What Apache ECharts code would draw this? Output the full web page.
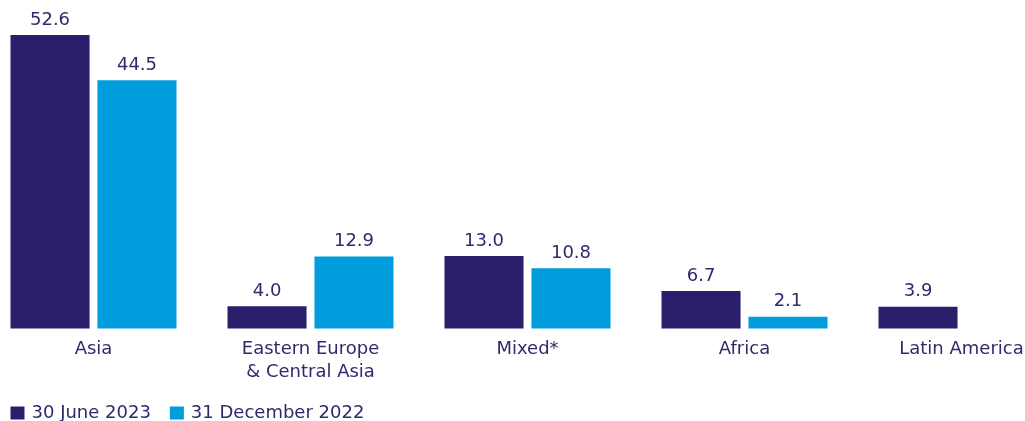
<!DOCTYPE html>
<html><head><meta charset="utf-8">
<script src="https://cdn.jsdelivr.net/npm/echarts@6/dist/echarts.min.js"></script>
<style>html,body{margin:0;padding:0;background:#fff;overflow:hidden;width:1025px;height:421px}#c{position:absolute;left:-15.5px;top:0;width:1085px;height:421px}</style>
</head><body><div id="c"></div>
<script>
const categories = ['Asia', 'Eastern Europe\n& Central Asia', 'Mixed*', 'Africa', 'Latin America'];
const seriesNames = ['30 June 2023', '31 December 2022'];
const june2023 = [52.6, 4.0, 13.0, 6.7, 3.9];
const dec2022 = [44.5, 12.9, 10.8, 2.1, null];

const textColor = '#2f2a6b';
const font = 'DejaVu Sans';
const chart = echarts.init(document.getElementById('c'));
const maxVal = Math.max(...june2023, ...dec2022.filter(v => v != null));
function lbl() {
  return { show: true, position: 'top', distance: 6, color: textColor, fontSize: 18, fontFamily: font,
    formatter: p => p.value == null ? '' : Number(p.value).toFixed(1) };
}
chart.setOption({
  animation: false,
  textStyle: { fontFamily: font },
  grid: { left: 0, right: 0, top: 35, bottom: 92.5, containLabel: false },
  legend: {
    left: 25.5, top: 404, padding: 0, itemWidth: 14, itemHeight: 13, itemGap: 19,
    icon: 'rect',
    textStyle: { color: textColor, fontSize: 18, fontFamily: font, padding: [0, 0, 0, 2] },
    data: seriesNames
  },
  xAxis: {
    type: 'category', data: categories,
    axisLine: { show: false }, axisTick: { show: false },
    axisLabel: { interval: 0, color: textColor, fontSize: 18, fontFamily: font, lineHeight: 23, margin: 9 }
  },
  yAxis: { type: 'value', min: 0, max: maxVal, show: false, splitLine: { show: false } },
  series: [
    { name: seriesNames[0], type: 'bar', data: june2023, barGap: '10%', barCategoryGap: '23.5%',
      itemStyle: { color: '#2b1f6b' }, label: lbl() },
    { name: seriesNames[1], type: 'bar', data: dec2022,
      itemStyle: { color: '#009ddc' }, label: lbl() }
  ]
});
</script></body></html>
